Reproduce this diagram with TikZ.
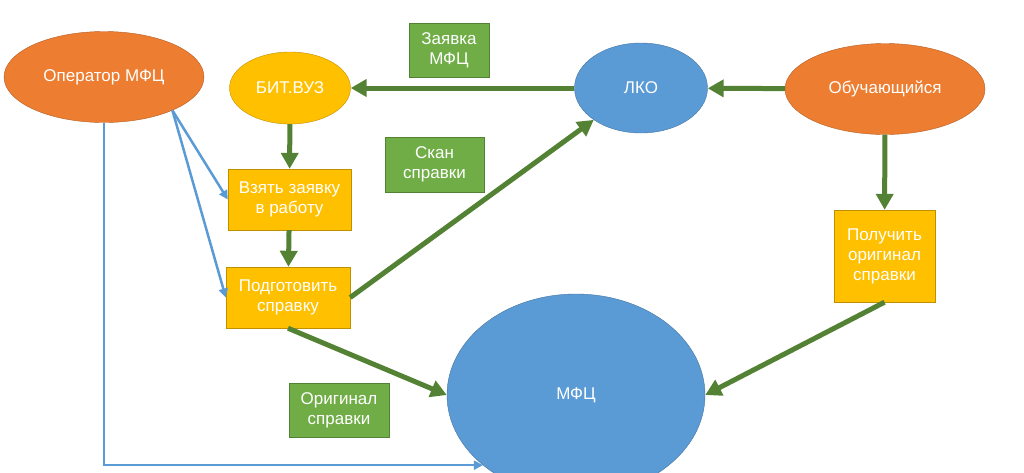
\documentclass[tikz,border=0pt]{standalone}
\usepackage{fontspec}
\setmainfont{Liberation Sans}
\usetikzlibrary{shapes.geometric,arrows.meta}
\definecolor{orng}{HTML}{ED7D31}
\definecolor{yllw}{HTML}{FFC000}
\definecolor{blu}{HTML}{5B9BD5}
\definecolor{grn}{HTML}{70AD47}
\definecolor{grnarr}{HTML}{548235}
\begin{document}
\begin{tikzpicture}[x=1pt,y=-1pt,%
        every node/.style={font=\fontsize{17}{20}\selectfont,text=white,align=center,inner sep=0pt},%
        actor/.style={ellipse,draw=orng!75!black,fill=orng}, sys/.style={ellipse,draw=yllw!75!black,fill=yllw},%
        org/.style={ellipse,draw=blu!75!black,fill=blu}, task/.style={rectangle,draw=yllw!75!black,fill=yllw},%
        doc/.style={rectangle,draw=grn!75!black,fill=grn},%
        flow/.style={draw=grnarr,line width=5pt,-{Triangle[length=16pt,width=17pt]}},%
        ctrl/.style={draw=blu,line width=2.5pt,-{Triangle[length=9pt,width=9pt]}}]%
        \useasboundingbox (0,0) rectangle (1024,472);
        \node[actor,minimum width=200pt,minimum height=91pt] (op) at (104,77) {Оператор МФЦ};
        \node[sys,minimum width=121pt,minimum height=72pt] (bit) at (290,88) {БИТ.ВУЗ};
        \node[org,minimum width=133pt,minimum height=90pt] (lko) at (641,88) {ЛКО};
        \node[actor,minimum width=200pt,minimum height=91pt] (stud) at (885,89) {Обучающийся};
        \node[org,minimum width=258pt,minimum height=202pt] (mfc) at (576,395) {МФЦ};
        \node[task,minimum width=123pt,minimum height=61pt] (take) at (289.5,199.5) {Взять заявку\\в работу};
        \node[task,minimum width=124pt,minimum height=61pt] (prep) at (288,297.5) {Подготовить\\справку};
        \node[task,minimum width=101pt,minimum height=92pt] (get) at (884.5,256) {Получить\\оригинал\\справки};
        \node[doc,minimum width=80pt,minimum height=54pt] (dreq) at (449,50) {Заявка\\МФЦ};
        \node[doc,minimum width=99pt,minimum height=55pt] (dscan) at (434.5,164.5) {Скан\\справки};
        \node[doc,minimum width=100pt,minimum height=54pt] (dorig) at (339,410) {Оригинал\\справки};
        \draw[flow] (lko) -- (bit); \draw[flow] (stud) -- (lko); \draw[flow] (stud) -- (get);
        \draw[flow] (bit) -- (take); \draw[flow] (take) -- (prep); \draw[flow] (prep.east) -- (lko.214);
        \draw[flow] (prep.south) -- (mfc.west); \draw[flow] (get.south) -- (mfc.east);
        \draw[ctrl] (op.-26) -- (take.west); \draw[ctrl] (op.-26) -- (prep.west);
        \draw[ctrl] (op.south) |- (mfc.217);
      \end{tikzpicture}
\end{document}
